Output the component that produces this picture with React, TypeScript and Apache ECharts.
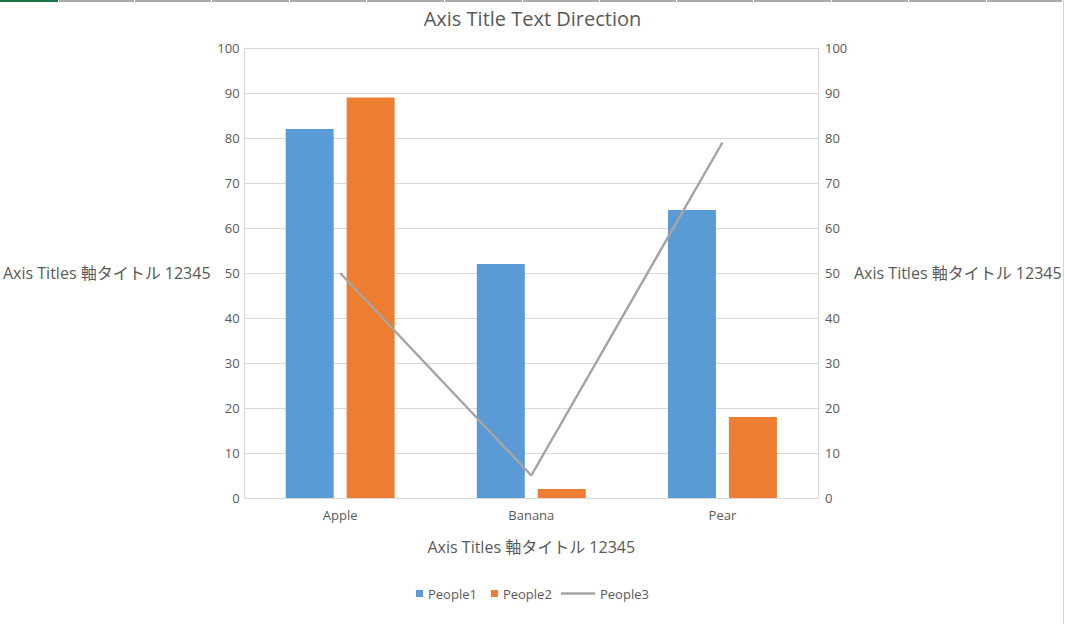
import {useEffect, useRef} from 'react';
import * as echarts from 'echarts';

const categories = ['Apple', 'Banana', 'Pear'];
const people1 = [82, 52, 64];
const people2 = [89, 2, 18];
const people3 = [50, 5, 79];

const axisTitle = 'Axis Titles 軸タイトル 12345';
const FONT = '"Open Sans", "Noto Sans CJK JP", sans-serif';
const TEXT = '#595959';
const GRID = '#d9d9d9';

// spreadsheet column borders peeking above the chart
const colBreaks = [59, 135, 212, 290, 367, 445, 523, 600, 677, 754, 832, 909, 987, 1063];

const App = () => {
    const chartRef = useRef<HTMLDivElement>(null);

    useEffect(() => {
        if (!chartRef.current) return;
        const chart = echarts.init(chartRef.current, null, {renderer: 'svg'});

        const header: any[] = [
            {
                type: 'line',
                shape: {x1: 0, y1: 1, x2: 58, y2: 1},
                style: {stroke: '#217346', lineWidth: 2},
            },
        ];
        for (let i = 0; i < colBreaks.length - 1; i++) {
            header.push({
                type: 'line',
                shape: {x1: colBreaks[i], y1: 1, x2: colBreaks[i + 1] - 1, y2: 1},
                style: {stroke: '#ababab', lineWidth: 2},
            });
        }
        header.push({
            type: 'line',
            shape: {x1: 1063.5, y1: 0, x2: 1063.5, y2: 624},
            style: {stroke: '#d4d4d4', lineWidth: 1},
        });

        const yAxisBase = {
            type: 'value' as const,
            min: 0,
            max: 100,
            interval: 10,
            name: axisTitle,
            nameLocation: 'middle' as const,
            nameRotate: 0,
            nameTextStyle: {color: TEXT, fontSize: 16, fontFamily: FONT},
            axisLine: {show: true, lineStyle: {color: GRID}},
            axisTick: {show: false},
            splitLine: {lineStyle: {color: GRID}},
            axisLabel: {color: TEXT, fontSize: 13, fontFamily: FONT},
        };

        chart.setOption({
            animation: false,
            title: {
                text: 'Axis Title Text Direction',
                left: 'center',
                top: 3,
                textStyle: {color: TEXT, fontSize: 20, fontWeight: 'normal', fontFamily: FONT},
            },
            grid: {left: 244, right: 247, top: 48, bottom: 126},
            legend: [
                {
                    data: ['People1', 'People2'],
                    left: 411,
                    top: 582,
                    icon: 'rect',
                    itemWidth: 7,
                    itemHeight: 7,
                    itemGap: 14,
                    textStyle: {color: TEXT, fontSize: 13, fontFamily: FONT},
                },
                {
                    data: ['People3'],
                    left: 556,
                    top: 582,
                    icon: 'rect',
                    itemWidth: 34,
                    itemHeight: 2.5,
                    textStyle: {color: TEXT, fontSize: 13, fontFamily: FONT},
                },
            ],
            xAxis: {
                type: 'category',
                data: categories,
                name: axisTitle,
                nameLocation: 'middle',
                nameGap: 41,
                nameTextStyle: {color: TEXT, fontSize: 16, fontFamily: FONT, verticalAlign: 'top'},
                axisLine: {lineStyle: {color: GRID}},
                axisTick: {show: false},
                axisLabel: {color: TEXT, fontSize: 13, fontFamily: FONT, margin: 10},
            },
            yAxis: [
                {...yAxisBase, position: 'left', nameGap: 34, axisLabel: {...yAxisBase.axisLabel, margin: 5}},
                {...yAxisBase, position: 'right', nameGap: 36, axisLabel: {...yAxisBase.axisLabel, margin: 7}},
            ],
            series: [
                {
                    name: 'People1',
                    type: 'bar',
                    data: people1,
                    barWidth: 48,
                    barGap: '27%',
                    itemStyle: {color: '#5b9bd5'},
                },
                {
                    name: 'People2',
                    type: 'bar',
                    data: people2,
                    barWidth: 48,
                    barGap: '27%',
                    itemStyle: {color: '#ed7d31'},
                },
                {
                    name: 'People3',
                    type: 'line',
                    yAxisIndex: 1,
                    data: people3,
                    showSymbol: false,
                    symbol: 'none',
                    itemStyle: {color: '#a5a5a5'},
                    lineStyle: {color: '#a5a5a5', width: 2.5},
                },
            ],
            graphic: header,
        });

        return () => {
            chart.dispose();
        };
    }, []);

    return (
        <div
            ref={chartRef}
            style={{position: 'fixed', left: 0, top: 0, width: 1065, height: 624, background: '#fff'}}
        />
    );
};

export default App;
